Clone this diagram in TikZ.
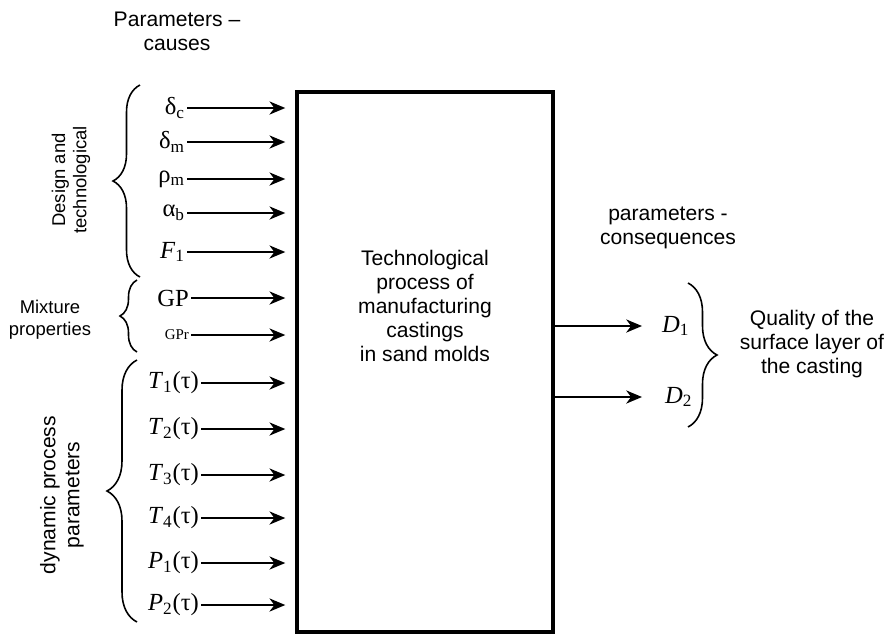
\documentclass[tikz,border=0pt]{standalone}
\usepackage{fontspec}
\setmainfont{Liberation Sans}
\newfontfamily\tms{Liberation Serif}
\usetikzlibrary{arrows.meta,decorations.pathreplacing,positioning}

\tikzset{
  arr/.style={-{Stealth[length=9pt,width=7.5pt,inset=2.8pt]}, line width=0.9pt, shorten >=0.2cm},
  inp/.style={anchor=east, inner sep=1pt, font=\tms\fontsize{14}{16}\selectfont},
  outp/.style={inp, anchor=west},
  brc/.style={decorate, line width=0.9pt, decoration={brace, amplitude=#1}},
  txt/.style={align=center, font=\fontsize{12}{13.7}\selectfont},
}

\begin{document}
\begin{tikzpicture}[x=0.02cm, y=-0.02cm]
  \useasboundingbox (0,0) rectangle (888,633);
  % process box
  \node[draw, line width=2pt, minimum width=5.12cm, minimum height=10.8cm, inner sep=0pt] (proc) at (425,362) {};
  \node[txt] (proctxt) at (425,306) {Technological\\process of\\manufacturing\\castings\\in sand molds};

  % parameters - causes
  \node[txt] (causes) at (177,31) {Parameters –\\causes};
  \node[inp] (dc) at (187,108) {δ\textsubscript{c}};
  \node[inp] (dm) at (187,142) {δ\textsubscript{m}};
  \node[inp] (rm) at (187,179) {ρ\textsubscript{m}};
  \node[inp] (ab) at (187,213) {α\textsubscript{b}};
  \node[inp] (f1) at (187,252) {\textit{F}\textsubscript{1}};
  \node[inp] (gp) at (191,298) {GP};
  \node[inp, font=\tms\fontsize{8.5}{10}\selectfont] (gpr) at (191,335) {GPr};
  \node[inp] (t1) at (201,383) {\textit{T}\textsubscript{1}(τ)};
  \node[inp] (t2) at (201,429) {\textit{T}\textsubscript{2}(τ)};
  \node[inp] (t3) at (201,475) {\textit{T}\textsubscript{3}(τ)};
  \node[inp] (t4) at (201,518) {\textit{T}\textsubscript{4}(τ)};
  \node[inp] (p1) at (201,563) {\textit{P}\textsubscript{1}(τ)};
  \node[inp] (p2) at (201,605) {\textit{P}\textsubscript{2}(τ)};
  \foreach \n in {dc,dm,rm,ab,f1,gp,gpr,t1,t2,t3,t4,p1,p2}
    \draw[arr] (\n.east) -- (\n.east -| proc.west);

  % groups
  \draw[brc=0.54cm] (140,277) -- (140,85);
  \draw[brc=0.34cm] (137,352) -- (137,280);
  \draw[brc=0.6cm] (137,622) -- (137,360);
  \node[rotate=90, align=center, font=\fontsize{10.5}{12}\selectfont] (design) at (71,180) {Design and\\technological};
  \node[align=center, font=\fontsize{10.5}{12.5}\selectfont] (mixture) at (50,320) {Mixture\\properties};
  \node[rotate=90, txt] (dynamic) at (62,495) {dynamic process\\parameters};

  % parameters - consequences
  \node[txt] (conseq) at (668,228) {parameters -\\consequences};
  \node[outp] (d1) at (660,326) {\textit{D}\textsubscript{1}};
  \node[outp] (d2) at (663,397) {\textit{D}\textsubscript{2}};
  \draw[arr, shorten >=0.36cm] (d1.west -| proc.east) -- (d1.west);
  \draw[arr, shorten >=0.42cm] (d2.west -| proc.east) -- (d2.west);
  \draw[brc=0.58cm] (688,283) -- (688,427);
  \node[txt] (quality) at (812,344) {Quality of the\\surface layer of\\the casting};
\end{tikzpicture}
\end{document}
